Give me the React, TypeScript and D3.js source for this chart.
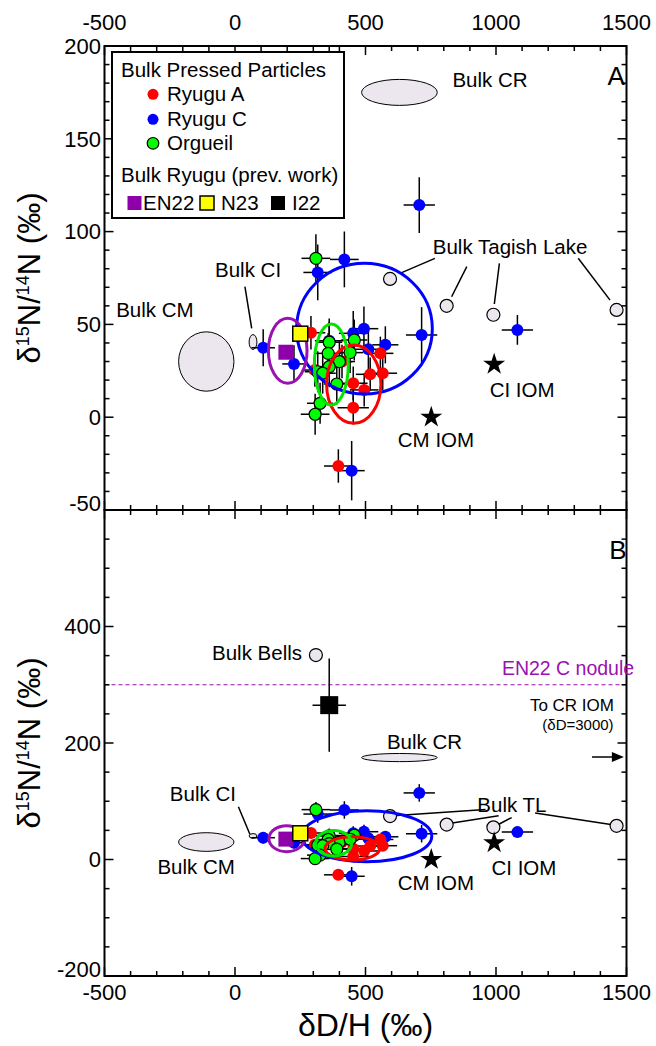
import React from "react";
import * as d3 from "d3";

// ---------- data ----------
const ryuguA = [
  { x: 291, y: 45.5, xe: 55, ye: 9 },
  { x: 557, y: 34.4, xe: 50, ye: 9 },
  { x: 566, y: 23.7, xe: 55, ye: 9 },
  { x: 518, y: 23.1, xe: 55, ye: 9 },
  { x: 495, y: 14.7, xe: 55, ye: 9 },
  { x: 453, y: 18.3, xe: 55, ye: 9 },
  { x: 453, y: 5.1, xe: 60, ye: 9 },
  { x: 396, y: -26.3, xe: 55, ye: 9 },
  { x: 306, y: 25.4, xe: 50, ye: 9 },
  { x: 410, y: 30, xe: 50, ye: 9 },
];
const ryuguC = [
  { x: 419, y: 85, xe: 55, ye: 15 },
  { x: 317, y: 78, xe: 55, ye: 15 },
  { x: 108, y: 37.4, xe: 45, ye: 10 },
  { x: 226, y: 28.7, xe: 45, ye: 10 },
  { x: 361, y: 41.2, xe: 55, ye: 12 },
  { x: 453, y: 45.2, xe: 55, ye: 12 },
  { x: 494, y: 47.7, xe: 55, ye: 12 },
  { x: 511, y: 36.6, xe: 55, ye: 12 },
  { x: 576, y: 39, xe: 50, ye: 10 },
  { x: 715, y: 44.3, xe: 60, ye: 15 },
  { x: 706, y: 114.3, xe: 60, ye: 15 },
  { x: 1082, y: 47, xe: 60, ye: 8 },
  { x: 447, y: -28.8, xe: 50, ye: 16 },
];
const orgueil = [
  { x: 310, y: 85.6, xe: 55, ye: 13 },
  { x: 457, y: 41.6, xe: 50, ye: 11 },
  { x: 361, y: 40.4, xe: 50, ye: 11 },
  { x: 357, y: 34.4, xe: 50, ye: 11 },
  { x: 400, y: 29.9, xe: 50, ye: 11 },
  { x: 361, y: 27.2, xe: 50, ye: 11 },
  { x: 317, y: 24.5, xe: 50, ye: 11 },
  { x: 336, y: 23.7, xe: 50, ye: 11 },
  { x: 390, y: 17.9, xe: 50, ye: 11 },
  { x: 441, y: 34.8, xe: 50, ye: 11 },
  { x: 326, y: 7.5, xe: 50, ye: 11 },
  { x: 307, y: 1.6, xe: 55, ye: 11 },
];
const prevWork = [
  { name: "EN22", x: 195, y: 35, xe: 0, ye: 0, fill: "#8e00aa" },
  { name: "N23", x: 250, y: 45, xe: 0, ye: 0, fill: "#ffff00" },
  { name: "I22", x: 361, y: 265, xe: 64, ye: 80, fill: "#000000" },
];
const tagishLake = [
  { x: 594, y: 74.5 },
  { x: 811, y: 60 },
  { x: 990, y: 55.2 },
  { x: 1462, y: 57.8 },
];
const bulkBells = [{ x: 310, y: 351 }];
const iomStars = [
  { name: "CM IOM", x: 752, y: 0 },
  { name: "CI IOM", x: 993, y: 28.5 },
];
// bulk meteorite fields (cx, cy, rx, ry in permil)
const bulkFields = [
  { name: "Bulk CR", cx: 630, cy: 175, rx: 145, ry: 7 },
  { name: "Bulk CM", cx: -110, cy: 30, rx: 106, ry: 16 },
  { name: "Bulk CI", cx: 69, cy: 40.5, rx: 15, ry: 4 },
];
const groupEllipsesA = [
  { color: "#0000ff", cx: 496, cy: 47.7, rx: 260, ry: 35.2 },
  { color: "#ff0000", cx: 455, cy: 17.8, rx: 104, ry: 21.1 },
  { color: "#00e600", cx: 369, cy: 28.4, rx: 65, ry: 21.8 },
  { color: "#9a10b0", cx: 202, cy: 35.8, rx: 74, ry: 17.5 },
];
const groupEllipsesB = [
  { color: "#0000ff", cx: 505, cy: 40, rx: 249, ry: 43.8 },
  { color: "#ff0000", cx: 450, cy: 19.2, rx: 105, ry: 20 },
  { color: "#00e600", cx: 378, cy: 27.8, rx: 69, ry: 21.8 },
  { color: "#9a10b0", cx: 198, cy: 35.7, rx: 68, ry: 22.3 },
];
const en22Nodule = 300;

const xTicks = [-500, 0, 500, 1000, 1500];
const yTicksA = [-50, 0, 50, 100, 150, 200];
const yTicksB = [-200, 0, 200, 400, 600];

// annotation labels (data coordinates)
const labelsA = [
  { t: "Bulk CR", x: 977, y: 181.7, a: "middle", fs: 20.5 },
  { t: "Bulk Tagish Lake", x: 1054, y: 91.9, a: "middle", fs: 20.5 },
  { t: "Bulk CI", x: 50, y: 79.3, a: "middle", fs: 20.5 },
  { t: "Bulk CM", x: -307, y: 57.8, a: "middle", fs: 20.5 },
  { t: "CM IOM", x: 770, y: -12.3, a: "middle", fs: 20.5 },
  { t: "CI IOM", x: 1100, y: 14.7, a: "middle", fs: 20.5 },
];
const leadersA = [
  [766, 85.6, 632, 77.5],
  [888, 81.1, 830, 64.9],
  [1013, 82.9, 993.5, 61],
  [1315, 85.6, 1437, 63.1],
  [38, 70.3, 64, 47.9],
];
const labelsB = [
  { t: "Bulk Bells", x: 257, y: 355, a: "end", fs: 20.5 },
  { t: "Bulk CR", x: 582, y: 202, a: "start", fs: 20.5 },
  { t: "To CR IOM", x: 1291, y: 265, a: "middle", fs: 17 },
  { t: "(δD=3000)", x: 1314, y: 231, a: "middle", fs: 15 },
  { t: "Bulk TL", x: 1061, y: 93.6, a: "middle", fs: 20.5 },
  { t: "Bulk CI", x: -123, y: 112.4, a: "middle", fs: 20.5 },
  { t: "Bulk CM", x: -149, y: -12.4, a: "middle", fs: 20.5 },
  { t: "CM IOM", x: 770, y: -40, a: "middle", fs: 20.5 },
  { t: "CI IOM", x: 1107, y: -14.6, a: "middle", fs: 20.5 },
];
const leadersB = [
  [960, 86, 605, 75],
  [1010, 75, 820, 62],
  [1060, 72, 1000, 58],
  [1150, 80, 1440, 60],
  [13, 90.6, 57, 43.3],
];
const arrowB = [1368, 176, 1490, 176];

// ---------- layout ----------
const W = 656;
const H = 1046;
const X0 = 104.5;
const X1 = 626.5;
const TOP = 46;
const MID = 510;
const BOT = 976;
const FONT = "'Liberation Sans', Arial, Helvetica, sans-serif";

const x = d3.scaleLinear().domain([-500, 1500]).range([X0, X1]);
const yA = d3.scaleLinear().domain([-50, 200]).range([MID, TOP]);
const yB = d3.scaleLinear().domain([-200, 600]).range([BOT, MID]);

const starPath = d3.symbol().type(d3.symbolStar).size(150)();

type Pt = { x: number; y: number; xe: number; ye: number };

function ErrorBars({ data, y }: { data: Pt[]; y: any }) {
  return (
    <g stroke="#000" strokeWidth={1.5}>
      {data.map((d, i) => (
        <g key={i}>
          {d.xe > 0 && <line x1={x(d.x - d.xe)} x2={x(d.x + d.xe)} y1={y(d.y)} y2={y(d.y)} />}
          {d.ye > 0 && <line x1={x(d.x)} x2={x(d.x)} y1={y(d.y - d.ye)} y2={y(d.y + d.ye)} />}
        </g>
      ))}
    </g>
  );
}

function Panel({
  y,
  id,
  ellipses,
  yMinorStep,
  yTicks,
  labels,
  leaders,
  big,
}: any) {
  const [y0, y1] = y.domain();
  const yMinor = d3.range(y0, y1 + 0.001, yMinorStep);
  const xMinor = d3.range(-500, 1500.001, 100);
  const top = y.range()[1];
  const bot = y.range()[0];
  const lab = (d: any, i: number) => (
    <text key={i} x={x(d.x)} y={y(d.y)} dy="0.35em" textAnchor={d.a} fontSize={d.fs}>
      {d.t}
    </text>
  );
  return (
    <g>
      <defs>
        <clipPath id={id}>
          <rect x={X0} y={top} width={X1 - X0} height={bot - top} />
        </clipPath>
      </defs>
      <g clipPath={`url(#${id})`}>
        {bulkFields.map((e, i) => (
          <ellipse
            key={i}
            cx={x(e.cx)}
            cy={y(e.cy)}
            rx={x(e.cx + e.rx) - x(e.cx)}
            ry={y(e.cy) - y(e.cy + e.ry)}
            fill="#ece6ef"
            stroke="#000"
            strokeWidth={1}
          />
        ))}
        {big && (
          <line
            x1={X0}
            x2={X1}
            y1={y(en22Nodule)}
            y2={y(en22Nodule)}
            stroke="#9a10b0"
            strokeWidth={1.2}
            strokeDasharray="4,3"
          />
        )}
        <g stroke="#000" strokeWidth={1.5}>
          {leaders.map((l: number[], i: number) => (
            <line key={i} x1={x(l[0])} y1={y(l[1])} x2={x(l[2])} y2={y(l[3])} />
          ))}
        </g>
        {[...tagishLake, ...(big ? bulkBells : [])].map((d, i) => (
          <circle key={i} cx={x(d.x)} cy={y(d.y)} r={6.5} fill="#ece6ef" stroke="#000" strokeWidth={1.2} />
        ))}
        {iomStars.map((d, i) => (
          <path key={i} d={starPath as string} transform={`translate(${x(d.x)},${y(d.y)})`} fill="#000" />
        ))}
        <ErrorBars data={ryuguA} y={y} />
        <ErrorBars data={ryuguC} y={y} />
        <ErrorBars data={orgueil} y={y} />
        <ErrorBars data={prevWork} y={y} />
        {ryuguC.map((d, i) => (
          <circle key={"c" + i} cx={x(d.x)} cy={y(d.y)} r={6} fill="#0000ff" />
        ))}
        {ryuguA.map((d, i) => (
          <circle key={"a" + i} cx={x(d.x)} cy={y(d.y)} r={6} fill="#ff0000" />
        ))}
        {orgueil.map((d, i) => (
          <circle key={"o" + i} cx={x(d.x)} cy={y(d.y)} r={6} fill="#00ff00" stroke="#000" strokeWidth={1.2} />
        ))}
        {ellipses.map((e: any, i: number) => (
          <ellipse
            key={i}
            cx={x(e.cx)}
            cy={y(e.cy)}
            rx={x(e.cx + e.rx) - x(e.cx)}
            ry={y(e.cy) - y(e.cy + e.ry)}
            fill="none"
            stroke={e.color}
            strokeWidth={3}
          />
        ))}
        {prevWork.map((d, i) => {
          const s = d.name === "I22" ? 18 : 15;
          return (
            <rect
              key={i}
              x={x(d.x) - s / 2}
              y={y(d.y) - s / 2}
              width={s}
              height={s}
              fill={d.fill}
              stroke={d.name === "N23" ? "#000" : "none"}
              strokeWidth={1.5}
            />
          );
        })}
        {big && (
          <g>
            <line
              x1={x(arrowB[0])}
              y1={y(arrowB[1])}
              x2={x(arrowB[2]) - 8}
              y2={y(arrowB[3])}
              stroke="#000"
              strokeWidth={1.5}
            />
            <path d={`M${x(arrowB[2])},${y(arrowB[3])} l-12,-5 l0,10 z`} fill="#000" />
          </g>
        )}
      </g>
      <g fontFamily={FONT} fill="#000">
        {labels.map(lab)}
      </g>
      <g stroke="#000" strokeWidth={1.5}>
        {xMinor.map((v, i) => {
          const major = xTicks.includes(v);
          const L = major ? 9 : 5;
          return (
            <g key={i}>
              <line x1={x(v)} x2={x(v)} y1={top} y2={top + L} />
              <line x1={x(v)} x2={x(v)} y1={bot} y2={bot - L} />
            </g>
          );
        })}
        {yMinor.map((v, i) => {
          const major = yTicks.includes(v);
          const L = major ? 9 : 5;
          return (
            <g key={i}>
              <line x1={X0} x2={X0 + L} y1={y(v)} y2={y(v)} />
              <line x1={X1} x2={X1 - L} y1={y(v)} y2={y(v)} />
            </g>
          );
        })}
      </g>
      <rect x={X0} y={top} width={X1 - X0} height={bot - top} fill="none" stroke="#000" strokeWidth={2} />
      <g fontFamily={FONT} fontSize={22} textAnchor="end">
        {yTicks
          .filter((v: number) => v !== y1 || y1 === 200)
          .map((v: number, i: number) => {
            let py = y(v);
            if (py >= bot - 1) py -= 7;
            return (
              <text key={i} x={101} y={py} dy="0.35em">
                {v}
              </text>
            );
          })}
      </g>
    </g>
  );
}

export default function App() {
  const cyA = (TOP + MID) / 2;
  const cyB = (MID + BOT) / 2;
  return (
    <svg
      width={W}
      height={H}
      viewBox={`0 0 ${W} ${H}`}
      style={{ position: "absolute", left: 0, top: 0, background: "#fff" }}
      fontFamily={FONT}
    >
      <rect width={W} height={H} fill="#fff" />
      <Panel
        y={yA}
        id="clipA"
        ellipses={groupEllipsesA}
        yMinorStep={10}
        yTicks={yTicksA}
        labels={labelsA}
        leaders={leadersA}
        big={false}
      />
      <Panel
        y={yB}
        id="clipB"
        ellipses={groupEllipsesB}
        yMinorStep={50}
        yTicks={yTicksB}
        labels={labelsB}
        leaders={leadersB}
        big={true}
      />
      <text x={x(1276)} y={yB(329)} dy="0.35em" textAnchor="middle" fontSize={19.5} fill="#9a10b0">
        EN22 C nodule
      </text>
      <text x={x(1460)} y={yA(184)} dy="0.35em" textAnchor="middle" fontSize={26}>
        A
      </text>
      <text x={x(1467)} y={yB(531)} dy="0.35em" textAnchor="middle" fontSize={26}>
        B
      </text>
      <g fontSize={22} textAnchor="middle">
        {xTicks.map((v) => (
          <text key={"t" + v} x={x(v)} y={22} dy="0.35em">
            {v}
          </text>
        ))}
        {xTicks.map((v) => (
          <text key={"b" + v} x={x(v)} y={992} dy="0.35em">
            {v}
          </text>
        ))}
      </g>
      <text x={x(500)} y={1036} textAnchor="middle" fontSize={32}>
        δD/H (‰)
      </text>
      {[cyA, cyB].map((cy, i) => (
        <text key={i} transform={`translate(40,${cy}) rotate(-90)`} textAnchor="middle" fontSize={31}>
          δ<tspan fontSize={18} dy={-11}>15</tspan>
          <tspan dy={11}>N/</tspan>
          <tspan fontSize={18} dy={-11}>14</tspan>
          <tspan dy={11}>N (‰)</tspan>
        </text>
      ))}
      <g>
        <rect x={112} y={52} width={232} height={166} fill="#fff" stroke="#000" strokeWidth={2} />
        <text x={121} y={70} dy="0.35em" fontSize={20.5}>
          Bulk Pressed Particles
        </text>
        <circle cx={153} cy={94.3} r={5.5} fill="#ff0000" />
        <text x={167} y={94.3} dy="0.35em" fontSize={20.5}>
          Ryugu A
        </text>
        <circle cx={153} cy={119.3} r={5.5} fill="#0000ff" />
        <text x={167} y={119.3} dy="0.35em" fontSize={20.5}>
          Ryugu C
        </text>
        <circle cx={153} cy={143.3} r={5.8} fill="#00ff00" stroke="#000" strokeWidth={1.2} />
        <text x={167} y={143.3} dy="0.35em" fontSize={20.5}>
          Orgueil
        </text>
        <text x={121} y={175} dy="0.35em" fontSize={20.5}>
          Bulk Ryugu (prev. work)
        </text>
        {prevWork.map((d, i) => {
          const lx = [127.5, 200, 271][i];
          return (
            <g key={i}>
              <rect
                x={lx}
                y={196}
                width={14}
                height={14}
                fill={d.fill}
                stroke={d.name === "N23" ? "#000" : "none"}
                strokeWidth={1.5}
              />
              <text x={lx + (i === 0 ? 15.5 : 21)} y={203.3} dy="0.35em" fontSize={20.5}>
                {d.name}
              </text>
            </g>
          );
        })}
      </g>
    </svg>
  );
}
